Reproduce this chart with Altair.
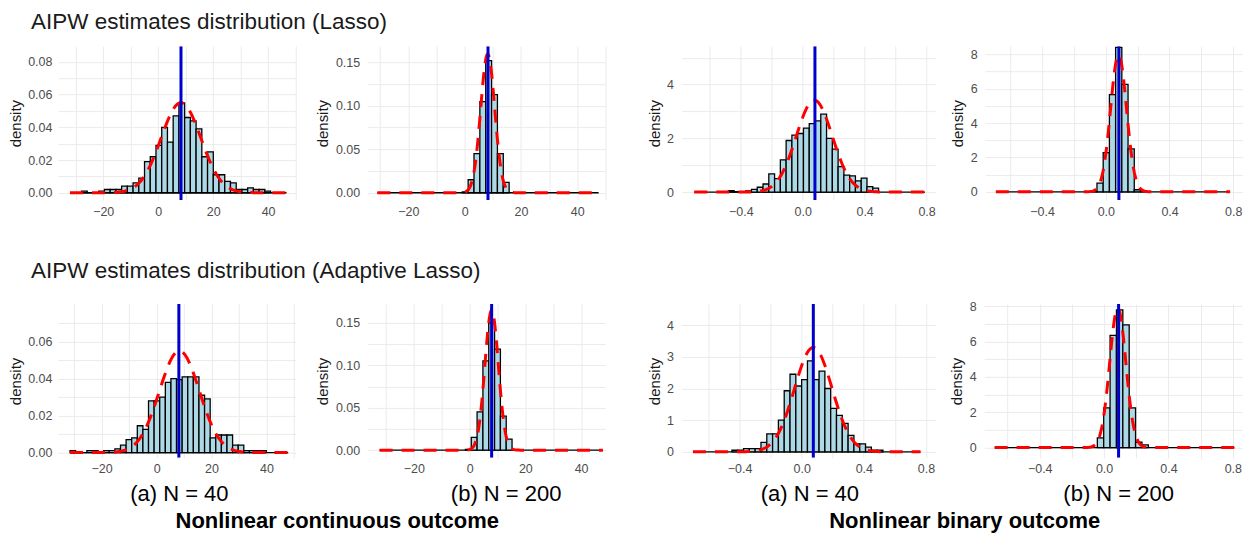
import altair as alt
import pandas as pd

FONT = "Liberation Sans"

# ---------------- data ----------------
panel_names = ["lasso_cont_40", "lasso_cont_200", "lasso_bin_40", "lasso_bin_200",
               "alasso_cont_40", "alasso_cont_200", "alasso_bin_40", "alasso_bin_200"]

# histogram bins: first left edge and bin width per panel
bin_start = [-27.9, -0.83, -0.48, -0.0945, -31.5, -1.5, -0.449, -0.042]
bin_width = [2.085, 2.08, 0.0373, 0.039, 2.04, 2.09, 0.0374, 0.0396]

dens_lasso_cont_40 = [0.001, 0, 0, 0.001, 0.002, 0.002, 0.002, 0.004, 0.004, 0.006,
                      0.009, 0.019, 0.022, 0.029, 0.040, 0.031, 0.047, 0.055, 0.046, 0.044,
                      0.039, 0.022, 0.025, 0.011, 0.011, 0.007, 0.006, 0.002, 0.002, 0.003,
                      0.002, 0.002, 0.001]
dens_lasso_cont_200 = [0.001, 0.015, 0.045, 0.105, 0.152, 0.113, 0.045, 0.012]
dens_lasso_bin_40 = [0.05, 0.02, 0.02, 0.04, 0.1, 0.18, 0.3, 0.68, 0.5, 1.2,
                     1.92, 2.12, 2.18, 2.38, 2.55, 2.65, 2.9, 2.0, 1.6, 0.95,
                     0.63, 0.6, 0.42, 0.52, 0.2, 0.15]
dens_lasso_bin_200 = [0.05, 0.5, 2.28, 5.65, 8.4, 6.25, 2.5, 0.12, 0.05]
dens_alasso_cont_40 = [0.001, 0, 0, 0.001, 0.001, 0, 0.001, 0.001, 0.002, 0.004,
                       0.007, 0.008, 0.0145, 0.0125, 0.028, 0.028, 0.030, 0.038, 0.040, 0.0395,
                       0.041, 0.041, 0.041, 0.031, 0.029, 0.008, 0.0095, 0.0095, 0.0095, 0.004,
                       0.004, 0.001, 0.001, 0.001, 0.001]
dens_alasso_cont_200 = [0.001, 0.015, 0.045, 0.105, 0.15, 0.119, 0.040, 0.013]
dens_alasso_bin_40 = [0.05, 0.05, 0.1, 0.1, 0.1, 0.3, 0.57, 0.57, 1.0, 1.93,
                      2.45, 2.08, 2.28, 2.87, 2.28, 2.55, 2.0, 1.37, 1.15, 0.9,
                      0.52, 0.25, 0.25, 0.15, 0.05, 0.05]
dens_alasso_bin_200 = [0.55, 2.25, 6.35, 7.8, 6.95, 2.25, 0.3, 0.15]

densities = [dens_lasso_cont_40, dens_lasso_cont_200, dens_lasso_bin_40, dens_lasso_bin_200,
             dens_alasso_cont_40, dens_alasso_cont_200, dens_alasso_bin_40, dens_alasso_bin_200]

# true value (blue line), fitted normal (red dashed), range of the estimates
true_value = [8.3, 8.3, 0.079, 0.082, 8.1, 7.9, 0.075, 0.09]
norm_mean = [8.3, 8.2, 0.075, 0.08, 8.3, 7.9, 0.075, 0.085]
norm_sd = [7.25, 2.5, 0.1166, 0.05, 7.25, 2.42, 0.121, 0.0505]
data_lo = [-32.1, -31.0, -0.70, -0.69, -31.5, -32.3, -0.70, -0.68]
data_hi = [46.7, 47.6, 0.79, 0.78, 47.9, 47.8, 0.765, 0.81]

row_titles = ["AIPW estimates distribution (Lasso)",
              "AIPW estimates distribution (Adaptive Lasso)"]
captions = ["(a) N = 40", "(b) N = 200", "(a) N = 40", "(b) N = 200"]
group_titles = ["Nonlinear continuous outcome", "Nonlinear binary outcome"]

# tick values (major + minor grid)
x_ticks_cont = [-30, -20, -10, 0, 10, 20, 30, 40, 50]
x_ticks_bin = [-0.6, -0.4, -0.2, 0.0, 0.2, 0.4, 0.6, 0.8]
y_ticks = [
    [0, 0.01, 0.02, 0.03, 0.04, 0.05, 0.06, 0.07, 0.08],
    [0, 0.025, 0.05, 0.075, 0.1, 0.125, 0.15],
    [0, 1, 2, 3, 4, 5],
    [0, 1, 2, 3, 4, 5, 6, 7, 8],
    [0, 0.01, 0.02, 0.03, 0.04, 0.05, 0.06, 0.07],
    [0, 0.025, 0.05, 0.075, 0.1, 0.125, 0.15],
    [0, 0.5, 1, 1.5, 2, 2.5, 3, 3.5, 4, 4.5],
    [0, 1, 2, 3, 4, 5, 6, 7, 8],
]
y_label_test = [
    "round(datum.value*100) % 2 == 0", "round(datum.value*1000) % 50 == 0",
    "datum.value % 2 == 0", "datum.value % 2 == 0",
    "round(datum.value*100) % 2 == 0", "round(datum.value*1000) % 50 == 0",
    "datum.value % 1 == 0", "datum.value % 2 == 0",
]
y_format = [".2f", ".2f", "d", "d", ".2f", ".2f", "d", "d"]

# scale domains (layout)
x_domain = [[-36.47, 50.07], [-34.43, 50.05], [-0.783, 0.856], [-0.757, 0.861],
            [-35.9, 50.65], [-36.56, 48.75], [-0.774, 0.860], [-0.745, 0.857]]
y_domain = [[-0.00446, 0.0896], [-0.0084, 0.1687], [-0.297, 5.43], [-0.48, 8.47],
            [-0.00286, 0.0804], [-0.00906, 0.1721], [-0.19, 4.67], [-0.583, 8.13]]

col_width = [238, 238, 254, 258]
panel_height = 154
y_label_pad = [6, 8, 8, 8]
y_extent = [32, 35, 17, 18]
caption_dx = [2, 19, 1, 5]


def panel(i):
    col = i % 4
    bottom = i >= 4
    cont = col < 2
    w = col_width[col]
    xs = alt.Scale(domain=x_domain[i], nice=False, zero=False)
    ys = alt.Scale(domain=y_domain[i], nice=False, zero=False)

    heights = densities[i]
    bars = pd.DataFrame({
        "x0": [bin_start[i] + k * bin_width[i] for k in range(len(heights))],
        "x1": [bin_start[i] + (k + 1) * bin_width[i] for k in range(len(heights))],
        "density": heights,
    })

    xaxis_kw = dict(
        values=x_ticks_cont if cont else x_ticks_bin,
        format="d" if cont else ".1f",
        labelExpr=("datum.value % 20 == 0 ? datum.label : ''" if cont else
                   "abs(round(datum.value*10)) % 4 == 0 ? datum.label : ''"),
        grid=True, gridColor="#EBEBEB", gridWidth=1, domain=False, ticks=False,
        labelColor="#4D4D4D", labelFontSize=12.5, labelFont=FONT, labelPadding=5,
        labelFlush=False, labelOverlap=False, labelBound=False,
    )
    if bottom:
        xaxis = alt.Axis(title=captions[col], titleFont=FONT, titleFontSize=22,
                         titleFontWeight="normal", titleColor="#000000", titlePadding=8,
                         titleX=w / 2 + caption_dx[col], titleAlign="center", **xaxis_kw)
    else:
        xaxis = alt.Axis(title=None, **xaxis_kw)

    yaxis = alt.Axis(
        values=y_ticks[i], format=y_format[i],
        labelExpr=y_label_test[i] + " ? datum.label : ''",
        grid=True, gridColor="#EBEBEB", gridWidth=1, domain=False, ticks=False,
        labelColor="#4D4D4D", labelFontSize=12.5, labelFont=FONT,
        labelPadding=y_label_pad[col], labelOverlap=False, labelBound=False, labelFlush=False,
        minExtent=y_extent[col], maxExtent=y_extent[col],
        title="density", titleFont=FONT, titleFontSize=15, titleFontWeight="normal",
        titleColor="#1A1A1A", titlePadding=2,
    )

    base_rule = alt.Chart(pd.DataFrame({"lo": [data_lo[i]], "hi": [data_hi[i]]})).mark_rule(
        color="black", strokeWidth=1.3, clip=True
    ).encode(
        x=alt.X("lo:Q", scale=xs, axis=xaxis),
        x2="hi:Q",
        y=alt.Y(datum=0, type="quantitative", scale=ys, axis=yaxis),
    )

    hist = alt.Chart(bars).mark_rect(
        fill="#ADD8E6", stroke="black", strokeWidth=1.3, clip=True
    ).encode(
        x=alt.X("x0:Q", scale=xs, axis=xaxis),
        x2="x1:Q",
        y=alt.Y("density:Q", scale=ys, axis=yaxis),
        y2=alt.Y2(datum=0),
    )

    lo, hi = data_lo[i], data_hi[i]
    step = (hi - lo) / 240
    mu, sd = norm_mean[i], norm_sd[i]
    curve = alt.Chart(alt.sequence(lo, hi + step / 2, step, as_="x")).transform_calculate(
        density=f"exp(-0.5*pow((datum.x-({mu}))/{sd},2))/({sd}*sqrt(2*PI))"
    ).mark_line(
        color="#FF0000", strokeDash=[13, 9], strokeWidth=3, clip=True
    ).encode(
        x=alt.X("x:Q", scale=xs, axis=xaxis),
        y=alt.Y("density:Q", scale=ys, axis=yaxis),
    )

    vline = alt.Chart(pd.DataFrame({"truth": [true_value[i]]})).mark_rule(
        color="#0000CD", strokeWidth=3, clip=True
    ).encode(x=alt.X("truth:Q", scale=xs, axis=xaxis))

    return alt.layer(base_rule, hist, curve, vline).properties(width=w, height=panel_height)


def row_title(t, offset):
    return alt.TitleParams(t, anchor="start", font=FONT, fontSize=22.5, fontWeight="normal",
                           color="#1A1A1A", offset=offset, dx=22)


def group_title(t, dx):
    return alt.TitleParams(t, orient="bottom", anchor="middle", font=FONT, fontSize=22,
                           fontWeight="bold", color="#000000", offset=7, dx=dx)


P = [panel(i) for i in range(8)]

row1 = alt.hconcat(
    alt.hconcat(P[0], P[1], spacing=20),
    alt.hconcat(P[2], P[3], spacing=14),
    spacing=42,
).properties(title=row_title(row_titles[0], 13))

row2 = alt.hconcat(
    alt.hconcat(P[4], P[5], spacing=20).properties(title=group_title(group_titles[0], 30)),
    alt.hconcat(P[6], P[7], spacing=14).properties(title=group_title(group_titles[1], 20)),
    spacing=42,
).properties(title=row_title(row_titles[1], 18))

chart = alt.vconcat(row1, row2, spacing=41).properties(
    padding={"left": 1, "top": 2, "right": 0, "bottom": 0}
).configure(background="white").configure_view(stroke=None)

chart.save("out.html", embed_options={"renderer": "svg", "actions": False})
